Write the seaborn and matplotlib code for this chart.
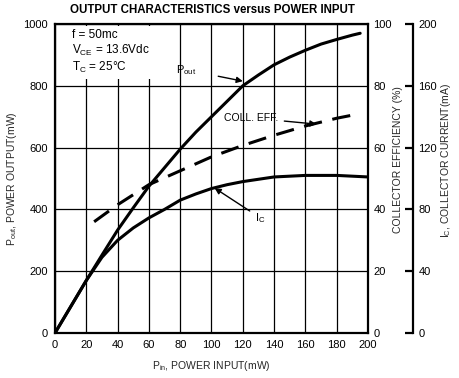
import numpy as np
import pandas as pd

import matplotlib
matplotlib.use('Agg')
import matplotlib.pyplot as plt
import seaborn as sns

# values
pin_out = [0, 10, 20, 30, 40, 50, 60, 70, 80, 90, 100, 110, 120, 130, 140, 150, 160, 170, 180, 190, 195]
pout_mw = [0, 85, 170, 252, 333, 405, 475, 535, 595, 650, 700, 750, 800, 835, 868, 893, 915, 935, 950, 964, 970]

pin_eff = [25, 40, 60, 80, 100, 120, 140, 160, 180, 195]
coll_eff = [36, 41.5, 48, 52.5, 57, 60.7, 64, 67, 69.5, 71]

pin_ic = [0, 10, 20, 30, 40, 50, 60, 70, 80, 90, 100, 110, 120, 140, 160, 180, 200]
ic_ma = [0, 17, 34, 49, 60, 68, 74.5, 80, 86, 90, 93.5, 96, 98, 101, 102, 102, 101]

x_ticks = list(range(0, 201, 20))
pout_ticks = [0, 200, 400, 600, 800, 1000]
eff_ticks = [0, 20, 40, 60, 80, 100]
ic_ticks = [0, 40, 80, 120, 160, 200]

sns.set_style('white')
plt.rcParams['font.family'] = ['Liberation Sans', 'DejaVu Sans']
plt.rcParams['mathtext.fontset'] = 'custom'
plt.rcParams['mathtext.rm'] = 'Liberation Sans'
plt.rcParams['mathtext.it'] = 'Liberation Sans'
plt.rcParams['text.color'] = 'black'

W, H = 459, 378
fig = plt.figure(figsize=(W / 100, H / 100), dpi=100)
ax = fig.add_axes([55 / W, (H - 333) / H, 313 / W, 309 / H])

df_out = pd.DataFrame({'pin': pin_out, 'pout': pout_mw})
sns.lineplot(data=df_out, x='pin', y='pout', ax=ax, color='black', lw=2.2)

ax.set_xlim(0, 200)
ax.set_ylim(0, 1000)
ax.set_xticks(x_ticks)
ax.set_yticks(pout_ticks)
ax.grid(True, color='black', lw=0.9)
ax.tick_params(length=0, labelsize=8, pad=5, colors='black')
for s in ax.spines.values():
    s.set_color('black')
    s.set_linewidth(1.6)
ax.set_xlabel('P$_{\\rm in}$, POWER INPUT(mW)', fontsize=7.5)
ax.set_ylabel('P$_{\\rm out}$, POWER OUTPUT(mW)', fontsize=7.5)
ax.xaxis.set_label_coords(0.5, -(359 - 333) / 309)
ax.yaxis.set_label_coords(-(55 - 19) / 313, 0.5)

# collector efficiency axis
ax2 = ax.twinx()
df_eff = pd.DataFrame({'pin': pin_eff, 'eff': coll_eff})
sns.lineplot(data=df_eff, x='pin', y='eff', ax=ax2, color='black', lw=2.2)
ax2.lines[-1].set_dashes([6, 3.5])
ax2.set_ylim(0, 100)
ax2.set_yticks(eff_ticks)
ax2.tick_params(length=0, labelsize=8, pad=4, colors='black')
ax2.set_ylabel('COLLECTOR EFFICIENCY (%)', fontsize=7.5)
ax2.yaxis.set_label_coords((393 - 55) / 313, 0.56)
for s in ax2.spines.values():
    s.set_visible(False)

# collector current axis
ax3 = ax.twinx()
df_ic = pd.DataFrame({'pin': pin_ic, 'ic': ic_ma})
sns.lineplot(data=df_ic, x='pin', y='ic', ax=ax3, color='black', lw=2.2)
ax3.set_ylim(0, 200)
ax3.set_yticks(ic_ticks)
ax3.spines['right'].set_position(('axes', (413 - 55) / 313))
for k in ['top', 'left', 'bottom']:
    ax3.spines[k].set_visible(False)
ax3.spines['right'].set_linewidth(1.6)
ax3.spines['right'].set_color('black')
ax3.tick_params(direction='in', length=6, width=1.6, labelsize=8, pad=4, colors='black')
ax3.set_ylabel('I$_{\\rm C}$, COLLECTOR CURRENT(mA)', fontsize=7.5)
ax3.yaxis.set_label_coords((439 - 55) / 313, 0.56)
ax3.set_xlabel('')

# annotations
ax.text(11, 985, 'f = 50mc\nV$_{\\rm CE}$ = 13.6Vdc\nT$_{\\rm C}$ = 25°C', fontsize=8.5,
        va='top', ha='left', linespacing=1.2,
        bbox=dict(facecolor='white', edgecolor='none', pad=3))
arrow = dict(arrowstyle='-|>', color='black', lw=1.0, mutation_scale=9)
ax.annotate('P$_{\\rm out}$', xy=(120, 815), xytext=(77, 852), fontsize=8,
            va='center', ha='left', arrowprops=dict(arrow, shrinkA=14, shrinkB=0))
ax.annotate('COLL. EFF.', xy=(167, 676), xytext=(108, 696), fontsize=7.5,
            va='center', ha='left', arrowprops=dict(arrow, shrinkA=2, shrinkB=0))
ax.annotate('I$_{\\rm C}$', xy=(102, 469), xytext=(128, 372), fontsize=8,
            va='center', ha='left', arrowprops=dict(arrow, shrinkA=2, shrinkB=0))

fig.text(212 / W, 1 - 10 / H, 'OUTPUT CHARACTERISTICS versus POWER INPUT',
         fontsize=8.3, fontweight='bold', ha='center', va='center')

fig.savefig('out.png', dpi=100)
